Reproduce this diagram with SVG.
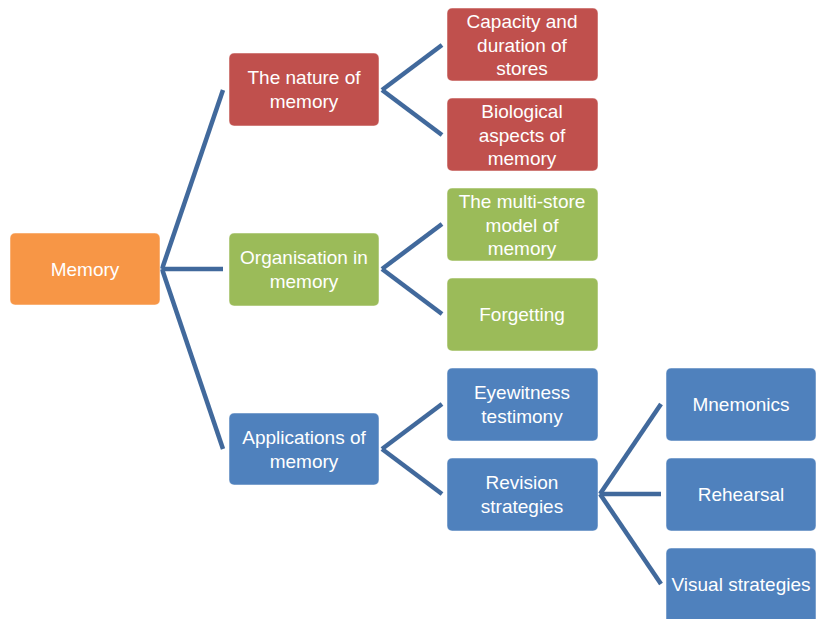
<svg xmlns="http://www.w3.org/2000/svg" width="816" height="619" viewBox="0 0 816 619">
<style>
.n rect{stroke:#ffffff;stroke-opacity:0.5;stroke-width:1}
.o{fill:#F79646}.r{fill:#C0504D}.g{fill:#9BBB59}.b{fill:#4F81BD}
text{font-family:"Liberation Sans",Arial,sans-serif;font-size:19px;fill:#ffffff;text-anchor:middle}
#connectors line{stroke:#41699C;stroke-width:4.5;fill:none}
</style>
<rect width="816" height="619" fill="#ffffff"/>
<g id="connectors">
<line x1="162" y1="269" x2="223" y2="90"/>
<line x1="162" y1="269" x2="223" y2="269"/>
<line x1="162" y1="269" x2="223" y2="449"/>
<line x1="382" y1="90" x2="442" y2="45"/>
<line x1="382" y1="90" x2="442" y2="135"/>
<line x1="382" y1="269" x2="442" y2="224"/>
<line x1="382" y1="269" x2="442" y2="314"/>
<line x1="382" y1="449" x2="442" y2="404"/>
<line x1="382" y1="449" x2="442" y2="494"/>
<line x1="600" y1="494" x2="661" y2="404"/>
<line x1="600" y1="494" x2="661" y2="494"/>
<line x1="600" y1="494" x2="661" y2="584"/>
</g>
<g id="memory" class="n"><rect class="o" x="10" y="233" width="150" height="72" rx="5"/><text x="85" y="276">Memory</text></g>
<g id="nature" class="n"><rect class="r" x="229" y="53" width="150" height="73" rx="5"/><text x="304" y="84">The nature of</text><text x="304" y="108">memory</text></g>
<g id="organisation" class="n"><rect class="g" x="229" y="233" width="150" height="73" rx="5"/><text x="304" y="264">Organisation in</text><text x="304" y="288">memory</text></g>
<g id="applications" class="n"><rect class="b" x="229" y="413" width="150" height="72" rx="5"/><text x="304" y="444">Applications of</text><text x="304" y="468">memory</text></g>
<g id="capacity" class="n"><rect class="r" x="447" y="8" width="151" height="73" rx="5"/><text x="522" y="28">Capacity and</text><text x="522" y="52">duration of</text><text x="522" y="75">stores</text></g>
<g id="biological" class="n"><rect class="r" x="447" y="98" width="151" height="73" rx="5"/><text x="522" y="118">Biological</text><text x="522" y="142">aspects of</text><text x="522" y="165">memory</text></g>
<g id="multistore" class="n"><rect class="g" x="447" y="188" width="151" height="73" rx="5"/><text x="522" y="208">The multi-store</text><text x="522" y="232">model of</text><text x="522" y="255">memory</text></g>
<g id="forgetting" class="n"><rect class="g" x="447" y="278" width="151" height="73" rx="5"/><text x="522" y="321">Forgetting</text></g>
<g id="eyewitness" class="n"><rect class="b" x="447" y="368" width="151" height="73" rx="5"/><text x="522" y="399">Eyewitness</text><text x="522" y="423">testimony</text></g>
<g id="revision" class="n"><rect class="b" x="447" y="458" width="151" height="73" rx="5"/><text x="522" y="489">Revision</text><text x="522" y="513">strategies</text></g>
<g id="mnemonics" class="n"><rect class="b" x="666" y="368" width="150" height="73" rx="5"/><text x="741" y="411">Mnemonics</text></g>
<g id="rehearsal" class="n"><rect class="b" x="666" y="458" width="150" height="73" rx="5"/><text x="741" y="501">Rehearsal</text></g>
<g id="visual" class="n"><rect class="b" x="666" y="548" width="150" height="76" rx="5"/><text x="741" y="591">Visual strategies</text></g>
</svg>
